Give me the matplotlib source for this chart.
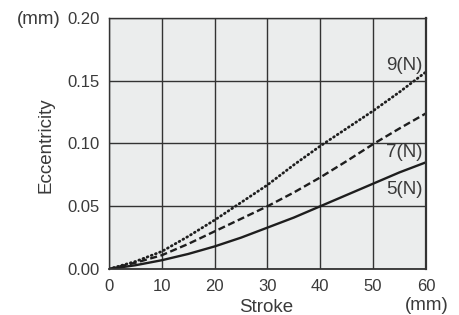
import numpy as np
import matplotlib.pyplot as plt

plt.rcParams["font.family"] = ["Liberation Sans", "DejaVu Sans"]

# stroke positions (mm) and eccentricity (mm) for each load
stroke = [0, 5, 10, 15, 20, 25, 30, 35, 40, 45, 50, 55, 60]
ecc_5n = [0.0, 0.003, 0.007, 0.012, 0.018, 0.025, 0.033, 0.041, 0.050, 0.059, 0.068, 0.077, 0.085]
ecc_7n = [0.0, 0.005, 0.011, 0.020, 0.030, 0.040, 0.050, 0.061, 0.073, 0.086, 0.0995, 0.112, 0.124]
ecc_9n = [0.0, 0.006, 0.014, 0.026, 0.039, 0.053, 0.067, 0.083, 0.098, 0.112, 0.126, 0.141, 0.157]
load_labels = ["5(N)", "7(N)", "9(N)"]
label_y = [0.063, 0.093, 0.1625]

xticks = [0, 10, 20, 30, 40, 50, 60]
yticks = [0.00, 0.05, 0.10, 0.15, 0.20]

txt = "#3a3a3a"
fig = plt.figure(figsize=(4.6, 3.15), dpi=100)
ax = fig.add_axes([0.237, 0.146, 0.689, 0.797])
ax.set_facecolor("#ebeded")

ax.plot(stroke, ecc_5n, color="#1e1e1e", lw=1.7, ls="-")
ax.plot(stroke, ecc_7n, color="#1e1e1e", lw=1.7, ls=(0, (3, 1.5)))
ax.plot(stroke, ecc_9n, color="#1e1e1e", lw=2.0, ls=(0, (0.3, 1.3)),
        dash_capstyle="round")

for lab, y in zip(load_labels, label_y):
    ax.text(59.3, y, lab, ha="right", va="center", fontsize=13.5, color=txt)

ax.set_xlim(0, 60)
ax.set_ylim(0, 0.2)
ax.set_xticks(xticks)
ax.set_yticks(yticks)
ax.set_yticklabels([f"{v:.2f}" for v in yticks])
ax.grid(True, color="#333333", lw=1.0)
ax.set_axisbelow(True)
ax.tick_params(length=0, labelsize=12, colors=txt, pad=7)
for s in ax.spines.values():
    s.set_color("#333333")
    s.set_linewidth(1.0)
ax.spines["right"].set_linewidth(1.6)
ax.spines["bottom"].set_linewidth(1.3)

fig.text(0.578, 0.025, "Stroke", fontsize=13.5, color=txt, ha="center", va="center")
fig.text(0.1, 0.54, "Eccentricity", fontsize=13.5, color=txt, ha="center",
         va="center", rotation=90)
fig.text(0.085, 0.937, "(mm)", fontsize=13.5, color=txt, ha="center", va="center")
fig.text(0.928, 0.03, "(mm)", fontsize=13.5, color=txt, ha="center", va="center")

fig.savefig("out.png", dpi=100)
